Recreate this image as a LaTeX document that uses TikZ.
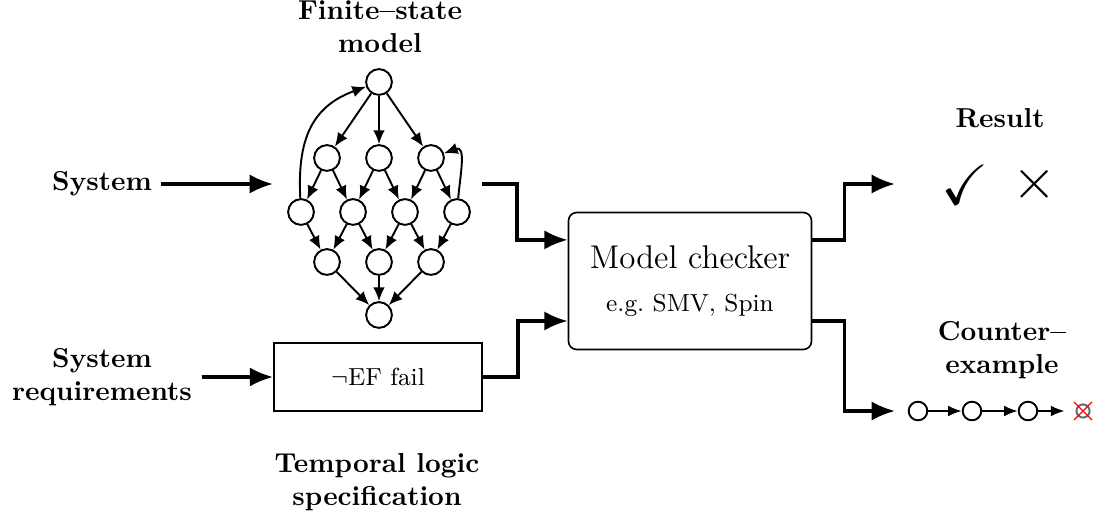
\documentclass[tikz,border=0pt]{standalone}
\usepackage{amsfonts,amsmath,amssymb}
\usepackage{tikz}
\usetikzlibrary{arrows.meta,shapes.misc}

\begin{document}
\begin{tikzpicture}[
        x=0.365pt, y=-0.365pt,
        every label/.append style={font=\bfseries}
    ]
    \tikzstyle{st}=[draw,shape=circle,line width=0.7pt,inner sep=0pt,minimum size=9.4pt,fill=white];
    \tikzstyle{tr}=[-{Latex[length=5pt,width=4.2pt]},line width=0.7pt];
    \tikzstyle{flow}=[-{Latex[length=8.5pt,width=7pt]},line width=1.2pt];
    \tikzstyle{lbl}=[align=center,font=\bfseries];
    \tikzstyle{ce}=[draw,shape=circle,line width=0.7pt,inner sep=0pt,minimum size=6.8pt];
    \tikzstyle{cetr}=[-{Latex[length=5pt,width=4pt]},line width=0.7pt];
    \useasboundingbox (0,0) rectangle (1095,514);
    % finite-state model
    \begin{scope}[shift={(379,82)}]
        \node[st] (q0) at (0,0) {};
        \node[st] (q1) at (-52,76) {};
        \node[st] (q2) at (0,76) {};
        \node[st] (q3) at (52,76) {};
        \node[st] (q4) at (-78,130) {};
        \node[st] (q5) at (-26,130) {};
        \node[st] (q6) at (26,130) {};
        \node[st] (q7) at (78,130) {};
        \node[st] (q8) at (-52,180) {};
        \node[st] (q9) at (0,180) {};
        \node[st] (q10) at (52,180) {};
        \node[st] (q11) at (0,233) {};
        \path (q0) edge[tr] (q1) edge[tr] (q2) edge[tr] (q3)
              (q1) edge[tr] (q4) edge[tr] (q5)
              (q2) edge[tr] (q5) edge[tr] (q6)
              (q3) edge[tr] (q6) edge[tr] (q7)
              (q4) edge[tr] (q8)
              (q5) edge[tr] (q8) edge[tr] (q9)
              (q6) edge[tr] (q9) edge[tr] (q10)
              (q7) edge[tr] (q10)
              (q8) edge[tr] (q11) (q9) edge[tr] (q11) (q10) edge[tr] (q11);
        \draw[tr] (q4) to[out=93,in=200,looseness=1.15] (q0);
        \draw[tr] (q7) to[out=85,in=20,looseness=1.3] (q3);
    \end{scope}
    \node[lbl] (fsm) at (380,27) {Finite--state\\model};
    \coordinate (fsmin) at (273,184);
    \coordinate (fsmout) at (482,184);
    % inputs
    \node[lbl] (sys) at (102,184) {System};
    \node[lbl] (req) at (102,377) {System\\requirements};
    \node[draw,semithick,minimum width=76pt,minimum height=24.8pt] (ltl) at (378,377) {\small$\neg$EF fail};
    \node[lbl] (spec) at (377,482) {Temporal logic\\specification};
    \draw[flow] (sys) -- (fsmin);
    \draw[flow] (req) -- (ltl);
    % checker
    \node[draw,semithick,rounded corners=3pt,minimum width=88.7pt,minimum height=50pt,align=center] (mc) at (690,281) {\large Model checker\\[3.5pt]\small e.g.\ SMV, Spin};
    \draw[flow] (fsmout) -- ++(35,0) |- ([yshift=15pt]mc.west);
    \draw[flow] (ltl.east) -- ++(35,0) |- ([yshift=-14.6pt]mc.west);
    % result
    \node[lbl] (res) at (1000,118) {Result};
    \coordinate (resin) at (895,184);
    \node (chk) at (965,185) {\huge$\checkmark$};
    \node (crs) at (1035,184) {\huge$\times$};
    \draw[flow] ([yshift=15pt]mc.east) -- ++(32,0) |- (resin);
    % counterexample
    \node[lbl] (cex) at (1002,350) {Counter--\\example};
    \coordinate (cein) at (895,411);
    \node[ce] (c1) at (918,411) {};
    \node[ce] (c2) at (972,411) {};
    \node[ce] (c3) at (1028,411) {};
    \node[draw=black!60,shape=circle,line width=0.7pt,inner sep=0pt,minimum size=4.8pt] (c4) at (1083,411) {};
    \node[draw=red,cross out,inner sep=0pt,minimum size=6.2pt] (fail) at (c4) {};
    \draw[flow] ([yshift=-14.6pt]mc.east) -- ++(32,0) |- (cein);
    \draw[cetr] (c1) -- (c2);
    \draw[cetr] (c2) -- (c3);
    \draw[cetr,shorten >=4pt] (c3) -- (c4);
\end{tikzpicture}
\end{document}
